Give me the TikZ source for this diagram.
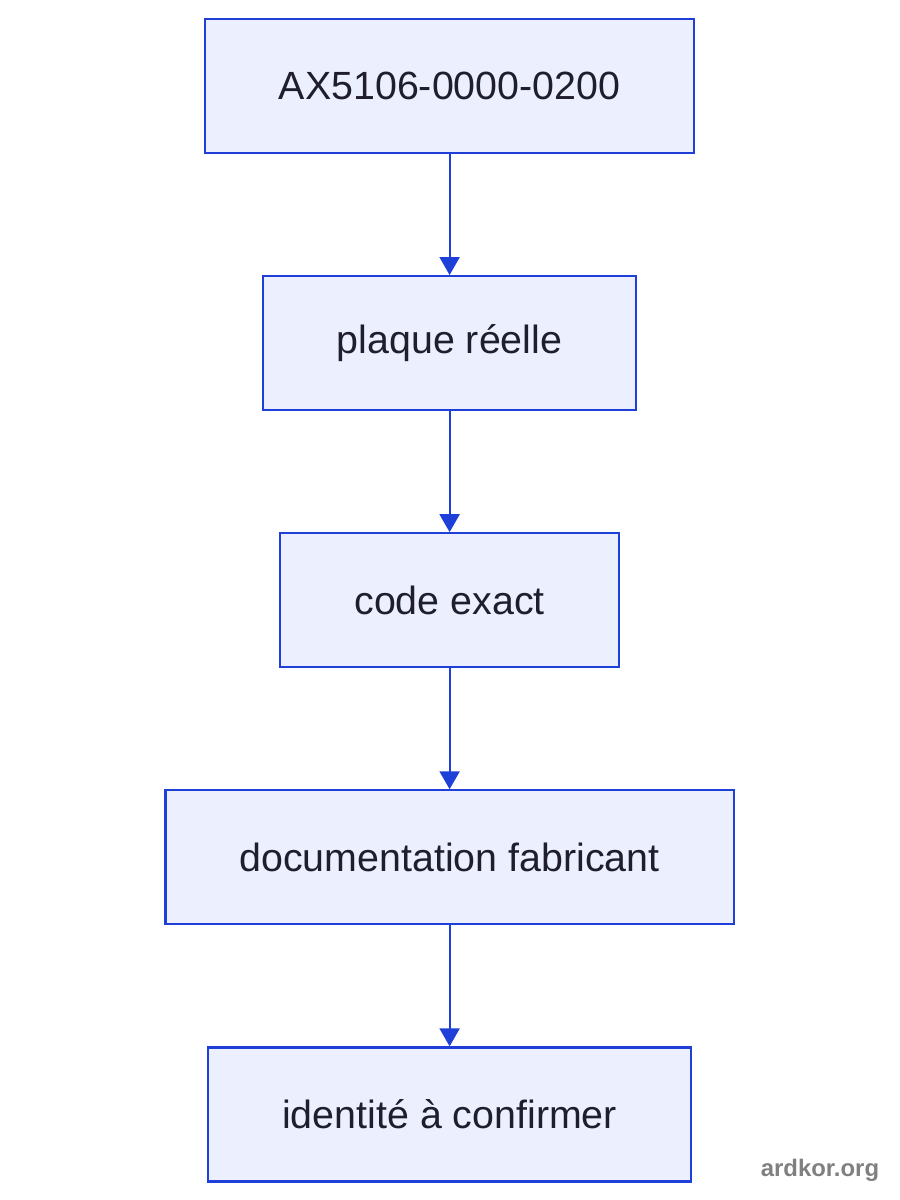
\documentclass[tikz,border=0pt]{standalone}
\usepackage{fontspec}
\setmainfont{Liberation Sans}
\usetikzlibrary{positioning}
\usetikzlibrary{arrows.meta}

\definecolor{boxfill}{HTML}{ECEFFE}
\definecolor{boxline}{HTML}{1F40D8}
\definecolor{boxtext}{HTML}{1E1E2E}
\definecolor{wmgrey}{HTML}{808080}

\tikzset{
    stepbox/.style={draw=boxline, fill=boxfill, line width=1.5pt, text=boxtext,
        minimum height=3.35cm, inner xsep=1.85cm,
        font=\fontsize{28}{32}\selectfont},
    flow/.style={draw=boxline, line width=1.5pt, -{Triangle[length=0.45cm, width=0.5cm]}}
}

\begin{document}
\begin{tikzpicture}[node distance=3.025cm]
        \useasboundingbox (0,0) rectangle (22.5,-30);

        \node[stepbox] (ref) at (11.24,-2.15) {AX5106-0000-0200};
        \node[stepbox, below=of ref] (plaque) {plaque réelle};
        \node[stepbox, below=of plaque] (code) {code exact};
        \node[stepbox, below=of code] (doc) {documentation fabricant};
        \node[stepbox, below=of doc] (ident) {identité à confirmer};

        \draw[flow] (ref) -- (plaque);
        \draw[flow] (plaque) -- (code);
        \draw[flow] (code) -- (doc);
        \draw[flow] (doc) -- (ident);

        \node[text=wmgrey, font=\bfseries\fontsize{17}{20}\selectfont] (wm) at (20.5,-29.25) {ardkor.org};

    \end{tikzpicture}
\end{document}
